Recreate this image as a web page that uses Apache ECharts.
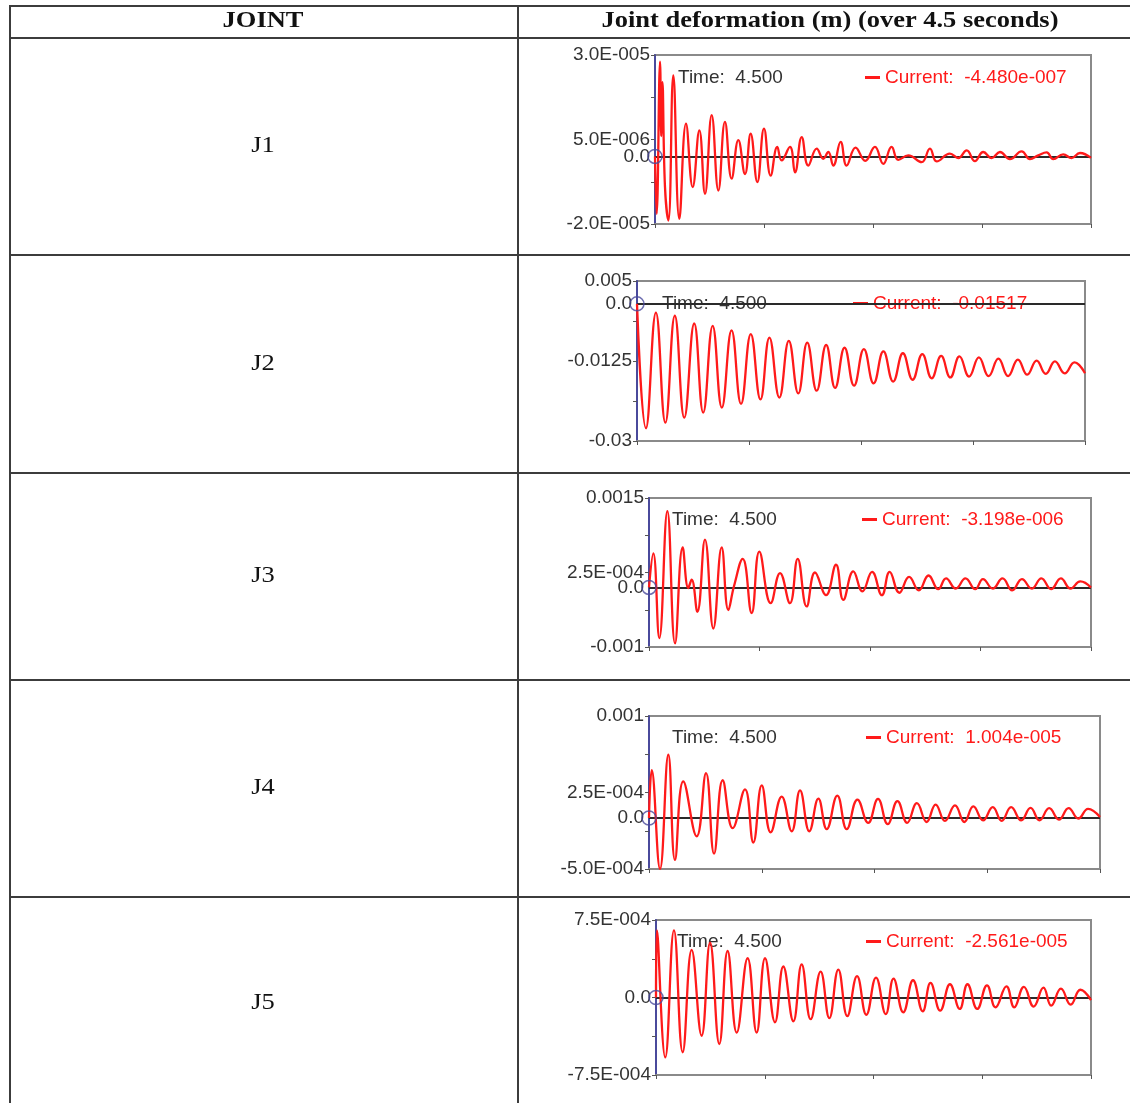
<!DOCTYPE html>
<html>
<head>
<meta charset="utf-8">
<script src="https://cdn.jsdelivr.net/npm/echarts@6/dist/echarts.min.js"></script>
<style>
  html, body { margin: 0; padding: 0; background: #ffffff; }
  #chart { width: 1130px; height: 1103px; }
</style>
</head>
<body>
<div id="chart"></div>
<script>
// ---- data ---------------------------------------------------------------
const joints = ['J1', 'J2', 'J3', 'J4', 'J5'];
const headerJoint = 'JOINT';
const headerDeform = 'Joint deformation (m) (over 4.5 seconds)';
const timeLabel = 'Time:  4.500';
const currentLabels = [
  'Current:  -4.480e-007',
  'Current:  -0.01517',
  'Current:  -3.198e-006',
  'Current:  1.004e-005',
  'Current:  -2.561e-005'
];

// time range of every record (s)
const timeMin = 0;
const timeMax = 4.5;

// value axis ranges (m)
const yMin = [-2.0e-5, -0.03, -0.001, -5.0e-4, -7.5e-4];
const yMax = [3.0e-5, 0.005, 0.0015, 0.001, 7.5e-4];

// labelled values on each value axis
const tickLabelValues = [
  [3.0e-5, 5.0e-6, 0, -2.0e-5],
  [0.005, 0, -0.0125, -0.03],
  [0.0015, 2.5e-4, 0, -0.001],
  [0.001, 2.5e-4, 0, -5.0e-4],
  [7.5e-4, 0, -7.5e-4]
];
const tickLabelTexts = [
  ['3.0E-005', '5.0E-006', '0.0', '-2.0E-005'],
  ['0.005', '0.0', '-0.0125', '-0.03'],
  ['0.0015', '2.5E-004', '0.0', '-0.001'],
  ['0.001', '2.5E-004', '0.0', '-5.0E-004'],
  ['7.5E-004', '0.0', '-7.5E-004']
];

// deformation records: [time (s), value in the joint's unit]
const valueUnits = [1e-6, 1e-3, 1e-4, 1e-4, 1e-4];

const j1Deform = [
  [0, 0], [0.017, -17], [0.052, 28], [0.064, 6], [0.076, 22], [0.103, -9], [0.138, -19],
  [0.189, 24], [0.251, -18.5], [0.320, 9.7], [0.389, -9.1], [0.458, 7.7], [0.516, -11.1],
  [0.585, 12.2], [0.654, -10.1], [0.722, 10.2], [0.791, -6.6], [0.860, 4.8], [0.929, -5.2],
  [0.987, 6.7], [1.056, -7.6], [1.125, 8.2], [1.194, -5.7], [1.262, 2.8], [1.307, -1.2],
  [1.393, 2.8], [1.445, -4.7], [1.514, 5.7], [1.582, -2.7], [1.669, 2.3], [1.737, -0.7],
  [1.789, 1.3], [1.840, -2.7], [1.916, 4.3], [1.978, -2.7], [2.070, 2.6], [2.170, -1.3],
  [2.270, 2.8], [2.356, -2.2], [2.442, 2.8], [2.511, -1.0], [2.614, 0.3], [2.752, -1.7],
  [2.838, 2.3], [2.907, -1.5], [3.044, 0.8], [3.130, -0.5], [3.217, 1.8], [3.302, -1.4],
  [3.388, 1.3], [3.475, -0.5], [3.560, 1.3], [3.663, -0.8], [3.784, 1.5], [3.870, -0.8],
  [3.956, 0.3], [4.042, 1.2], [4.110, -0.8], [4.213, 0.6], [4.300, -0.5], [4.386, 1.0],
  [4.5, -0.448]
];

const j2Deform = [
  [0, 0], [0.09, -27.2], [0.19, -1.9], [0.285, -26.0], [0.38, -2.6], [0.475, -24.9],
  [0.575, -4.3], [0.665, -23.8], [0.76, -4.8], [0.852, -22.7], [0.95, -5.8], [1.045, -21.9],
  [1.143, -6.6], [1.24, -20.9], [1.33, -7.4], [1.43, -20.5], [1.525, -8.1], [1.62, -19.6],
  [1.71, -8.5], [1.805, -19.0], [1.9, -9.0], [1.99, -18.4], [2.085, -9.6], [2.18, -17.9],
  [2.279, -9.9], [2.377, -17.4], [2.475, -10.4], [2.573, -17.0], [2.671, -10.8], [2.768, -16.6],
  [2.866, -11.0], [2.96, -16.3], [3.055, -11.4], [3.147, -16.1], [3.239, -11.5], [3.336, -15.9],
  [3.434, -11.7], [3.532, -15.8], [3.63, -12.0], [3.728, -15.8], [3.826, -12.2], [3.92, -15.5],
  [4.014, -12.4], [4.106, -15.3], [4.198, -12.6], [4.296, -15.2], [4.394, -12.8], [4.5, -15.17]
];

const j3Deform = [
  [0, 0], [0.044, 5.7], [0.105, -8.5], [0.187, 12.8], [0.265, -9.4], [0.343, 6.7],
  [0.400, -0.1], [0.434, 1.3], [0.492, -4.1], [0.570, 8.0], [0.655, -6.9], [0.740, 6.7],
  [0.808, -3.8], [0.865, 0.2], [0.954, 4.8], [1.045, -4.3], [1.123, 6.0], [1.239, -2.65],
  [1.334, 2.4], [1.435, -2.65], [1.514, 4.8], [1.605, -3.2], [1.690, 2.5], [1.802, -1.3],
  [1.904, 3.8], [1.978, -2.1], [2.080, 2.7], [2.173, -0.66], [2.271, 2.6], [2.371, -1.3],
  [2.450, 2.6], [2.549, -0.9], [2.648, 1.75], [2.747, -0.5], [2.846, 2.0], [2.945, -0.3],
  [3.024, 1.5], [3.123, -0.2], [3.222, 1.5], [3.322, -0.3], [3.400, 1.4], [3.500, -0.2],
  [3.599, 1.5], [3.698, -0.5], [3.797, 1.4], [3.896, -0.2], [3.995, 1.5], [4.093, -0.3],
  [4.193, 1.5], [4.292, -0.2], [4.391, 1.0], [4.5, -0.03198]
];

const j4Deform = [
  [0, 0], [0.027, 4.7], [0.110, -5.0], [0.193, 6.2], [0.259, -4.1], [0.342, 3.6],
  [0.476, -1.8], [0.569, 4.4], [0.649, -3.5], [0.735, 3.7], [0.835, -1.0], [0.958, 2.8],
  [1.041, -2.4], [1.125, 3.2], [1.214, -1.4], [1.324, 2.1], [1.424, -1.3], [1.507, 2.7],
  [1.600, -1.3], [1.690, 1.9], [1.773, -1.1], [1.879, 2.2], [1.973, -1.1], [2.080, 1.8],
  [2.187, -0.48], [2.285, 1.87], [2.382, -0.61], [2.479, 1.65], [2.576, -0.48], [2.673, 1.45],
  [2.770, -0.39], [2.860, 1.32], [2.953, -0.29], [3.053, 1.23], [3.147, -0.39], [3.236, 1.13],
  [3.333, -0.23], [3.430, 1.06], [3.519, -0.29], [3.613, 1.06], [3.714, -0.23], [3.807, 1.0],
  [3.896, -0.23], [3.993, 0.97], [4.090, -0.16], [4.187, 0.97], [4.284, -0.06], [4.381, 0.9],
  [4.5, 0.1004]
];

const j5Deform = [
  [0, 0], [0.010, 6.5], [0.096, -5.8], [0.186, 6.5], [0.276, -5.3], [0.369, 4.6],
  [0.472, -3.7], [0.559, 5.3], [0.655, -4.5], [0.741, 4.5], [0.835, -3.4], [0.948, 3.8],
  [1.041, -3.4], [1.128, 3.8], [1.231, -2.4], [1.317, 3.0], [1.421, -2.3], [1.507, 3.2],
  [1.600, -2.1], [1.703, 2.5], [1.793, -2.0], [1.886, 2.7], [1.979, -1.8], [2.080, 2.06],
  [2.176, -1.67], [2.276, 1.93], [2.377, -1.6], [2.457, 1.83], [2.558, -1.44], [2.659, 1.67],
  [2.759, -1.34], [2.840, 1.41], [2.940, -1.27], [3.041, 1.28], [3.142, -1.11], [3.222, 1.28],
  [3.323, -1.11], [3.424, 1.18], [3.512, -0.95], [3.625, 1.08], [3.706, -0.95], [3.806, 1.02],
  [3.907, -0.88], [4.008, 0.95], [4.088, -0.79], [4.189, 0.85], [4.290, -0.69], [4.390, 0.75],
  [4.5, -0.2561]
];

const deformRecords = [j1Deform, j2Deform, j3Deform, j4Deform, j5Deform];

// ---- layout -------------------------------------------------------------
// plot boxes inside the right-hand table column: [left, top, width, height]
const plotBoxes = [
  [655, 55, 436, 169],
  [637, 281, 448, 160],
  [649, 498, 442, 149],
  [649, 716, 451, 153],
  [656, 920, 435, 155]
];
// readout positions: [time text left, legend left, text top]
const readoutPos = [
  [678, 865, 68],
  [662, 853, 294],
  [672, 862, 510],
  [672, 866, 728],
  [677, 866, 932]
];
const rowLines = [6, 38, 255, 473, 680, 897];
const rowCenters = [146, 364, 576, 788, 1003];
const tableLeft = 10, tableDivider = 518, tableRight = 1130, tableBottom = 1103;
const jointColX = 263, deformColX = 830, headerY = 21;

const RED = '#ff1a1a';
const AXIS_BLUE = '#4a4a9c';
const FRAME = '#8a8a8a';
const SANS = '"Liberation Sans", Arial, sans-serif';
const SERIF = '"Liberation Serif", "Times New Roman", serif';
const LABEL_SIZE = 19;

const grids = [], xAxes = [], yAxes = [], series = [], legends = [], titles = [];

joints.forEach((jn, i) => {
  const [l, t, w, h] = plotBoxes[i];
  grids.push({
    left: l, top: t, width: w, height: h,
    show: true, borderColor: FRAME, borderWidth: 2, backgroundColor: 'transparent'
  });

  xAxes.push({
    gridIndex: i, type: 'value', min: timeMin, max: timeMax, interval: (timeMax - timeMin) / 4,
    axisLine: { show: true, onZero: false, lineStyle: { color: FRAME, width: 2 } },
    axisTick: { show: true, inside: false, length: 4, lineStyle: { color: '#555', width: 1 } },
    axisLabel: { show: false },
    splitLine: { show: false }
  });

  const span = yMax[i] - yMin[i];
  const tickVals = [0, 1, 2, 3, 4].map(k => yMin[i] + k * span / 4);
  const labVals = tickLabelValues[i];
  const labTxt = tickLabelTexts[i];
  yAxes.push({
    gridIndex: i, type: 'value', min: yMin[i], max: yMax[i],
    axisLine: { show: true, lineStyle: { color: AXIS_BLUE, width: 2 } },
    axisTick: { show: true, inside: false, length: 4, customValues: tickVals,
                lineStyle: { color: '#555', width: 1 } },
    axisLabel: {
      show: true, customValues: labVals, margin: 5,
      color: '#333', fontSize: LABEL_SIZE, fontFamily: SANS,
      formatter: v => {
        const k = labVals.findIndex(x => Math.abs(x - v) < span * 1e-6);
        return k >= 0 ? labTxt[k] : '';
      }
    },
    splitLine: { show: false }
  });

  series.push({
    name: currentLabels[i],
    type: 'line',
    xAxisIndex: i, yAxisIndex: i,
    data: deformRecords[i].map(p => [p[0], p[1] * valueUnits[i]]),
    showSymbol: false,
    smooth: 0.45,
    lineStyle: { color: RED, width: 2.3 },
    itemStyle: { color: RED },
    z: 3,
    silent: true,
    markLine: {
      silent: true, symbol: 'none', label: { show: false },
      lineStyle: { color: '#2a2a2a', width: 2, type: 'solid' },
      data: [{ yAxis: 0 }],
      z: 2
    }
  });

  // origin marker
  series.push({
    name: jn + ' origin',
    type: 'scatter',
    xAxisIndex: i, yAxisIndex: i,
    data: [[deformRecords[i][0][0], deformRecords[i][0][1] * valueUnits[i]]],
    symbol: 'circle', symbolSize: 14,
    itemStyle: { color: 'transparent', borderColor: AXIS_BLUE, borderWidth: 1.5 },
    silent: true, z: 4
  });

  const [tx, lx, ty] = readoutPos[i];
  titles.push({
    text: timeLabel, left: tx, top: ty, padding: 0, z: 1,
    textStyle: { color: '#333', fontSize: LABEL_SIZE, fontWeight: 'normal', fontFamily: SANS }
  });
  legends.push({
    data: [currentLabels[i]], left: lx, top: ty, padding: 0, z: 1,
    icon: 'rect', itemWidth: 15, itemHeight: 3, selectedMode: false,
    textStyle: { color: RED, fontSize: LABEL_SIZE, fontFamily: SANS }
  });
});

// table rules and cell text
const graphic = [];
const ruleStyle = { stroke: '#3c3c3c', lineWidth: 2 };
rowLines.forEach(y => graphic.push({
  type: 'line', shape: { x1: tableLeft - 1, y1: y, x2: tableRight, y2: y }, style: ruleStyle, silent: true
}));
[tableLeft, tableDivider].forEach(x => graphic.push({
  type: 'line', shape: { x1: x, y1: rowLines[0], x2: x, y2: tableBottom }, style: ruleStyle, silent: true
}));
const cellText = (text, x, y, weight) => ({
  type: 'text', x: x, y: y, scaleX: 1.15, silent: true,
  style: { text: text, fill: '#111', font: weight + ' 23px ' + SERIF, align: 'center', verticalAlign: 'middle' }
});
graphic.push(cellText(headerJoint, jointColX, headerY, 'bold'));
graphic.push(cellText(headerDeform, deformColX, headerY, 'bold'));
joints.forEach((jn, i) => graphic.push(cellText(jn, jointColX, rowCenters[i], 'normal')));

const chart = echarts.init(document.getElementById('chart'), null, { renderer: 'canvas' });
chart.setOption({
  animation: false,
  backgroundColor: '#ffffff',
  title: titles,
  legend: legends,
  grid: grids,
  xAxis: xAxes,
  yAxis: yAxes,
  series: series,
  graphic: graphic
});
</script>
</body>
</html>
